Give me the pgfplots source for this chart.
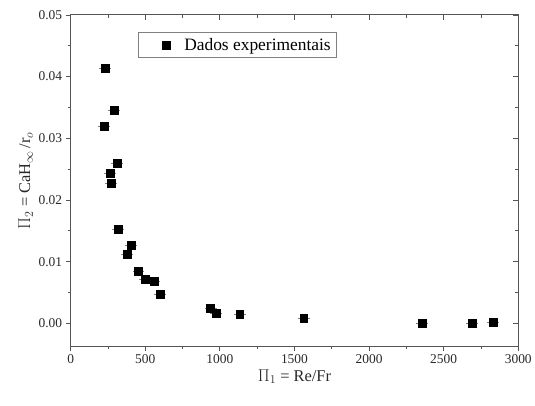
\documentclass[border=0pt]{standalone}
\usepackage{pgfplots}
\pgfplotsset{compat=1.18}
\usepackage{fontspec}
\setmainfont{Liberation Serif}
\definecolor{axgray}{RGB}{85,85,85}
\definecolor{txtgray}{RGB}{40,40,40}
\begin{document}
\begin{tikzpicture}[x=1pt,y=1pt]
\begin{axis}[
  scale only axis, width=450pt, height=333pt,
  xmin=0, xmax=3000, ymin=-0.0037, ymax=0.05,
  xtick={0,500,...,3000}, ytick={0,0.01,...,0.05},
  minor x tick num=1, minor y tick num=1,
  xtick pos=bottom, ytick pos=left, tick align=outside,
  major tick length=5pt, minor tick length=3pt,
  axis line style={axgray, line width=0.9pt},
  every tick/.style={axgray, line width=0.8pt},
  scaled y ticks=false, scaled x ticks=false,
  /pgf/number format/set thousands separator={},
  yticklabel style={/pgf/number format/.cd, fixed, zerofill, precision=2},
  /pgf/number format/assume math mode=true,
  tick label style={font=\fontsize{13.5}{15}\selectfont, text=txtgray},
  xlabel={$\Pi_1$ = Re/Fr},
  ylabel={$\Pi_2$ = CaH$_\infty$\,/r$_o$},
  label style={font=\fontsize{16.5}{18}\selectfont, text=txtgray},
  xlabel style={yshift=1pt},
  ylabel style={yshift=-1pt},
  legend style={at={(rel axis cs:0.151,0.949)}, anchor=north west,
    draw=gray, line width=0.7pt, font=\fontsize{17.5}{19}\selectfont,
    inner xsep=4pt, inner ysep=4pt},
  legend cell align=left,
  legend image code/.code={\path (0cm,0cm) (1.38cm,0cm);
    \draw[mark=square*, mark size=4pt, black, mark options={fill=black}] plot coordinates {(0.82cm,0cm)};},
]
\addplot[only marks, mark=square*, mark size=4pt, black,
  error bars/.cd, x dir=both, x fixed=40,
  error bar style={line width=0.4pt, gray}, error mark=none]
coordinates {
(233,0.0414) (289,0.0345) (222,0.0320) (313,0.0260) (265,0.0243)
(273,0.0227) (318,0.0153) (405,0.0127) (378,0.0112) (455,0.0085)
(500,0.0071) (558,0.0069) (598,0.0047) (938,0.0024) (975,0.0017)
(1133,0.0015) (1562,0.0008) (2353,0.0000) (2693,0.0001) (2833,0.0002)
};
\addlegendentry{Dados experimentais}
\coordinate (o) at (rel axis cs:0,0);
\coordinate (t) at (rel axis cs:1,1);
\end{axis}
\begin{axis}[
  scale only axis, width=450pt, height=333pt,
  xmin=0, xmax=3000, ymin=-0.0037, ymax=0.05,
  xtick={0,500,...,3000}, ytick={0,0.01,...,0.05},
  minor x tick num=1, minor y tick num=1,
  xtick pos=top, ytick pos=right, tick align=inside,
  major tick length=5pt, minor tick length=3pt,
  axis line style={draw=none},
  every tick/.style={axgray, line width=0.8pt},
  scaled y ticks=false,
  xticklabels={}, yticklabels={},
]
\end{axis}
\path ([xshift=-71pt,yshift=-60pt]o) ([xshift=14pt,yshift=15pt]t);
\end{tikzpicture}
\end{document}
